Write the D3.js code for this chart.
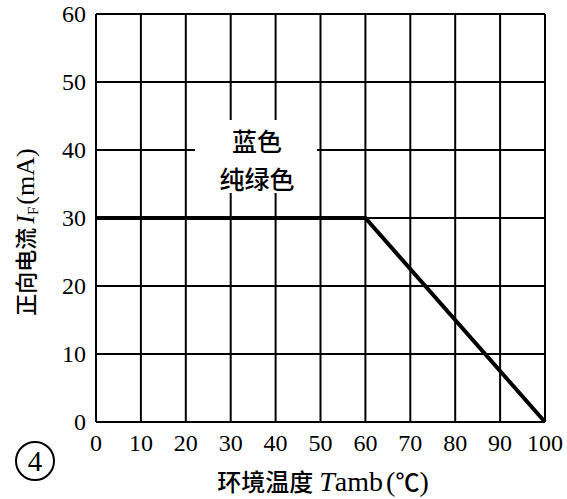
<!DOCTYPE html>
<html><head><meta charset="utf-8">
<script src="https://cdn.jsdelivr.net/npm/d3@7/dist/d3.min.js"></script>
<style>body{margin:0;background:#fff}svg{display:block}</style>
</head><body>
<script>
const xTicks = [0,10,20,30,40,50,60,70,80,90,100];
const yTicks = [0,10,20,30,40,50,60];
const tempValues = [0, 60, 100];
const currentValues = [30, 30, 0];
const labelLines = ["蓝色", "纯绿色"];

const W = 567, H = 499;
const svg = d3.select("body").append("svg").attr("width", W).attr("height", H);
const x = d3.scaleLinear().domain([0,100]).range([96,545]);
const y = d3.scaleLinear().domain([0,60]).range([422,14]);
const serif = "'Liberation Serif','DejaVu Serif',serif";
const cjk = "'Noto Sans CJK SC','Noto Sans CJK JP',sans-serif";

// grid
svg.append("g").selectAll("line.v").data(xTicks).join("line")
  .attr("x1", d=>x(d)).attr("x2", d=>x(d)).attr("y1", y(0)).attr("y2", y(60))
  .attr("stroke","#000").attr("stroke-width",2);
svg.append("g").selectAll("line.h").data(yTicks).join("line")
  .attr("x1", x(0)).attr("x2", x(100)).attr("y1", d=>y(d)).attr("y2", d=>y(d))
  .attr("stroke","#000").attr("stroke-width",2);

// white label box
svg.append("rect").attr("x",195).attr("y",120).attr("width",122).attr("height",73).attr("fill","#fff");
svg.append("g").selectAll("text").data(labelLines).join("text")
  .attr("x",257).attr("y",(d,i)=>151+i*38).attr("text-anchor","middle")
  .attr("font-family",cjk).attr("font-weight",500).attr("font-size",25).attr("fill","#000").text(d=>d);

// data line
const pts = tempValues.map((t,i)=>[t,currentValues[i]]);
svg.append("path").datum(pts)
  .attr("d", d3.line().x(d=>x(d[0])).y(d=>y(d[1])))
  .attr("fill","none").attr("stroke","#000").attr("stroke-width",4).attr("stroke-linejoin","miter");

// tick labels
svg.append("g").selectAll("text").data(yTicks).join("text")
  .attr("x",86).attr("y",d=>y(d)+8).attr("text-anchor","end")
  .attr("font-family",serif).attr("font-size",24).attr("fill","#000").text(d=>d);
svg.append("g").selectAll("text").data(xTicks).join("text")
  .attr("x",d=>x(d)).attr("y",451).attr("text-anchor","middle")
  .attr("font-family",serif).attr("font-size",24).attr("fill","#000").text(d=>d);

// x title
const xt = svg.append("text").attr("x",323).attr("y",491).attr("text-anchor","middle").attr("fill","#000").attr("font-size",24);
xt.append("tspan").attr("font-family",cjk).attr("font-weight",500).text("环境温度");
xt.append("tspan").attr("font-family",serif).attr("font-size",28).attr("font-style","italic").attr("dx",6).text("T");
xt.append("tspan").attr("font-family",serif).attr("font-size",28).text("amb");
xt.append("tspan").attr("font-family",serif).attr("font-size",28).attr("dx",3).text("(");
xt.append("tspan").attr("font-family",cjk).attr("font-weight",500).attr("font-size",24).text("℃");
xt.append("tspan").attr("font-family",serif).attr("font-size",28).text(")");

// y title
const yt = svg.append("text").attr("transform","translate(34,232) rotate(-90)").attr("text-anchor","middle").attr("fill","#000").attr("font-size",22);
yt.append("tspan").attr("font-family",cjk).attr("font-weight",500).text("正向电流");
yt.append("tspan").attr("font-family",serif).attr("font-size",26).attr("font-style","italic").attr("dx",4).text("I");
yt.append("tspan").attr("font-family",serif).attr("font-size",15).attr("dy",4).text("F");
yt.append("tspan").attr("font-family",serif).attr("font-size",26).attr("dy",-4).attr("dx",2).text("(mA)");

// circled number
svg.append("circle").attr("cx",35).attr("cy",461).attr("r",19).attr("fill","none").attr("stroke","#000").attr("stroke-width",2);
svg.append("text").attr("x",35).attr("y",471).attr("text-anchor","middle").attr("font-family",serif).attr("font-size",29).attr("fill","#000").text("4");
</script>
</body></html>
